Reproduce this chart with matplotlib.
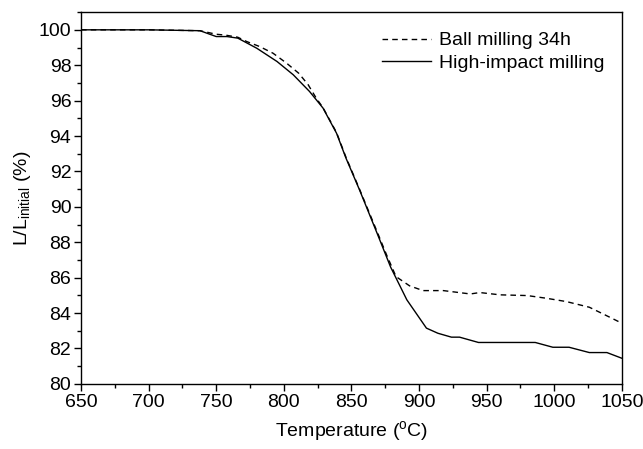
import matplotlib
matplotlib.use("Agg")
import matplotlib.pyplot as plt
from matplotlib.ticker import MultipleLocator

plt.rcParams['font.family'] = ['Liberation Sans', 'DejaVu Sans']
plt.rcParams['mathtext.fontset'] = 'custom'
plt.rcParams['mathtext.rm'] = 'Liberation Sans'

# values
temp_ball = [650, 700, 738, 750, 757, 766, 772.5, 782, 792, 802, 811, 818, 824, 829,
             839, 846, 856, 869, 876, 883, 893, 903, 918, 938, 945, 960, 980, 994,
             1009, 1026, 1041, 1050]
len_ball = [100.0, 100.0, 99.95, 99.75, 99.7, 99.58, 99.34, 99.06, 98.68, 98.12, 97.55,
            96.9, 96.14, 95.6, 94.2, 92.8, 91.0, 88.6, 87.29, 86.06, 85.54, 85.27,
            85.27, 85.08, 85.16, 85.03, 84.99, 84.84, 84.65, 84.33, 83.77, 83.43]

temp_hi = [650, 700, 738, 750, 758, 766, 780, 795, 807, 819, 829, 839, 846, 856, 869,
           879, 891, 905.5, 914, 924, 930, 944, 986, 999, 1011, 1026, 1039, 1050]
len_hi = [100.0, 100.0, 99.95, 99.62, 99.62, 99.53, 98.96, 98.21, 97.46, 96.52, 95.58,
          94.16, 92.75, 90.96, 88.51, 86.6, 84.75, 83.15, 82.86, 82.64, 82.64, 82.34,
          82.34, 82.07, 82.07, 81.77, 81.77, 81.45]

fig = plt.figure(figsize=(6.43, 4.49), dpi=100)
ax = fig.add_axes([0.126, 0.145, 0.841, 0.828])

ax.plot(temp_ball, len_ball, color='black', lw=1.0, ls=(0, (4, 3)), label='Ball milling 34h')
ax.plot(temp_hi, len_hi, color='black', lw=1.0, label='High-impact milling')

ax.set_xlim(650, 1050)
ax.set_ylim(80, 101)
ax.xaxis.set_major_locator(MultipleLocator(50))
ax.xaxis.set_minor_locator(MultipleLocator(25))
ax.yaxis.set_major_locator(MultipleLocator(2))
ax.yaxis.set_minor_locator(MultipleLocator(1))
ax.tick_params(which='both', direction='out', top=False, right=False, labelsize=14)
ax.tick_params(which='major', length=5, width=1, pad=2)
ax.tick_params(which='minor', length=3, width=1)
for s in ax.spines.values():
    s.set_linewidth(1.0)

ax.set_xlabel(r'Temperature ($^{\mathregular{o}}$C)', fontsize=14, labelpad=6)
ax.set_ylabel(r'L/L$_{\mathregular{initial}}$ (%)', fontsize=14, labelpad=4)

ax.legend(loc='upper left', frameon=False, fontsize=14, handlelength=2.5,
          handletextpad=0.4, labelspacing=0.25, borderaxespad=0,
          bbox_to_anchor=(0.543, 0.968))

fig.savefig('out.png', dpi=100)
